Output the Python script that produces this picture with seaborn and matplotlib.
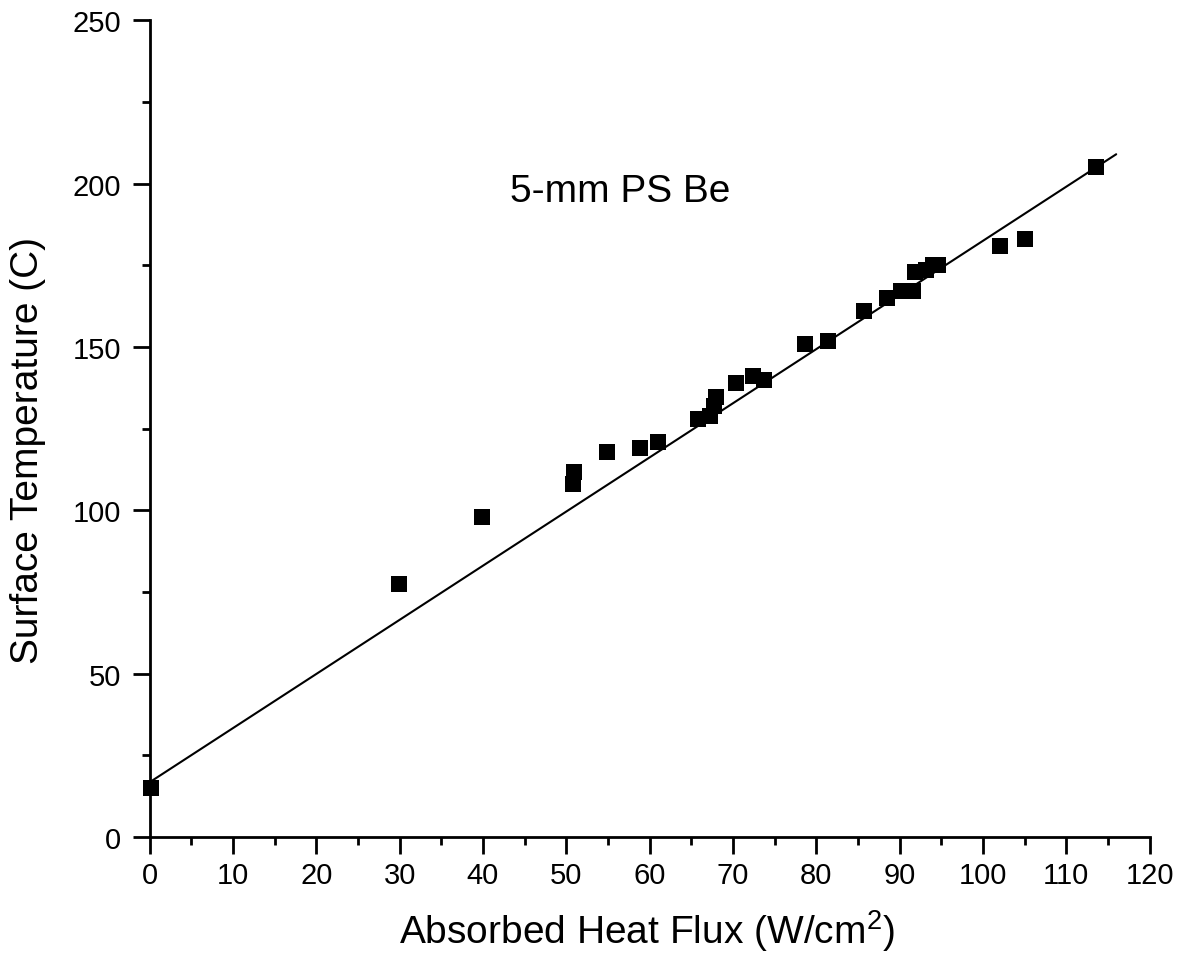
import numpy as np
import pandas as pd
import seaborn as sns
import matplotlib
matplotlib.use("Agg")
import matplotlib.pyplot as plt
from matplotlib.ticker import MultipleLocator

# data
heat_flux = [0.2, 29.9, 39.9, 50.8, 50.9, 54.9, 58.9, 61.0, 65.8, 67.3, 67.7, 68.0,
             70.4, 72.4, 73.7, 78.7, 81.4, 85.7, 88.5, 90.2, 91.6, 91.9, 93.2,
             94.0, 94.6, 102.0, 105.0, 113.6]
surface_temp = [15.0, 77.5, 98.0, 108.0, 111.8, 117.8, 119.0, 121.0, 128.0, 128.8,
                131.8, 134.8, 139.0, 141.0, 140.0, 151.0, 152.0, 161.0, 165.0,
                167.0, 167.0, 173.0, 173.5, 175.0, 175.0, 181.0, 183.0, 205.0]

# linear fit shown in the reference
fit_intercept = 16.8
fit_slope = 1.657
fit_x_range = [0, 116]

df = pd.DataFrame({"flux": heat_flux, "temp": surface_temp})
fit_x = np.array(fit_x_range)
fit_df = pd.DataFrame({"flux": fit_x, "temp": fit_intercept + fit_slope * fit_x})

sns.set_style("ticks", {"text.color": "black", "axes.labelcolor": "black",
                        "xtick.color": "black", "ytick.color": "black",
                        "axes.edgecolor": "black"})
plt.rcParams["font.family"] = ["Liberation Sans", "DejaVu Sans"]
plt.rcParams["mathtext.fontset"] = "custom"
plt.rcParams["mathtext.rm"] = "Liberation Sans"

fig = plt.figure(figsize=(11.79, 9.70), dpi=100)
ax = fig.add_axes([0.127, 0.136, 0.848, 0.842])

sns.lineplot(data=fit_df, x="flux", y="temp", color="black", linewidth=1.5, ax=ax)
sns.scatterplot(data=df, x="flux", y="temp", marker="s", s=128, color="black",
                edgecolor="black", linewidth=0, ax=ax, clip_on=False, zorder=3)

ax.set_xlim(0, 120)
ax.set_ylim(0, 250)
ax.xaxis.set_major_locator(MultipleLocator(10))
ax.xaxis.set_minor_locator(MultipleLocator(5))
ax.yaxis.set_major_locator(MultipleLocator(50))
ax.yaxis.set_minor_locator(MultipleLocator(25))
ax.tick_params(which="major", length=12, width=2, labelsize=21, direction="out")
ax.tick_params(which="minor", length=6, width=2, direction="out")
ax.tick_params(axis="x", which="major", pad=5)
ax.tick_params(axis="y", which="major", pad=8.5)

sns.despine(ax=ax)
for side in ["left", "bottom"]:
    ax.spines[side].set_linewidth(2)

ax.set_xlabel(r"Absorbed Heat Flux (W/cm$^\mathrm{2}$)", fontsize=28)
ax.set_ylabel("Surface Temperature (C)", fontsize=28)
ax.xaxis.set_label_coords(0.497, -0.086)
ax.yaxis.set_label_coords(-0.104, 0.474)
ax.text(56.5, 194.6, "5-mm PS Be", fontsize=28, ha="center", va="baseline")

fig.savefig("out.png", dpi=100)
